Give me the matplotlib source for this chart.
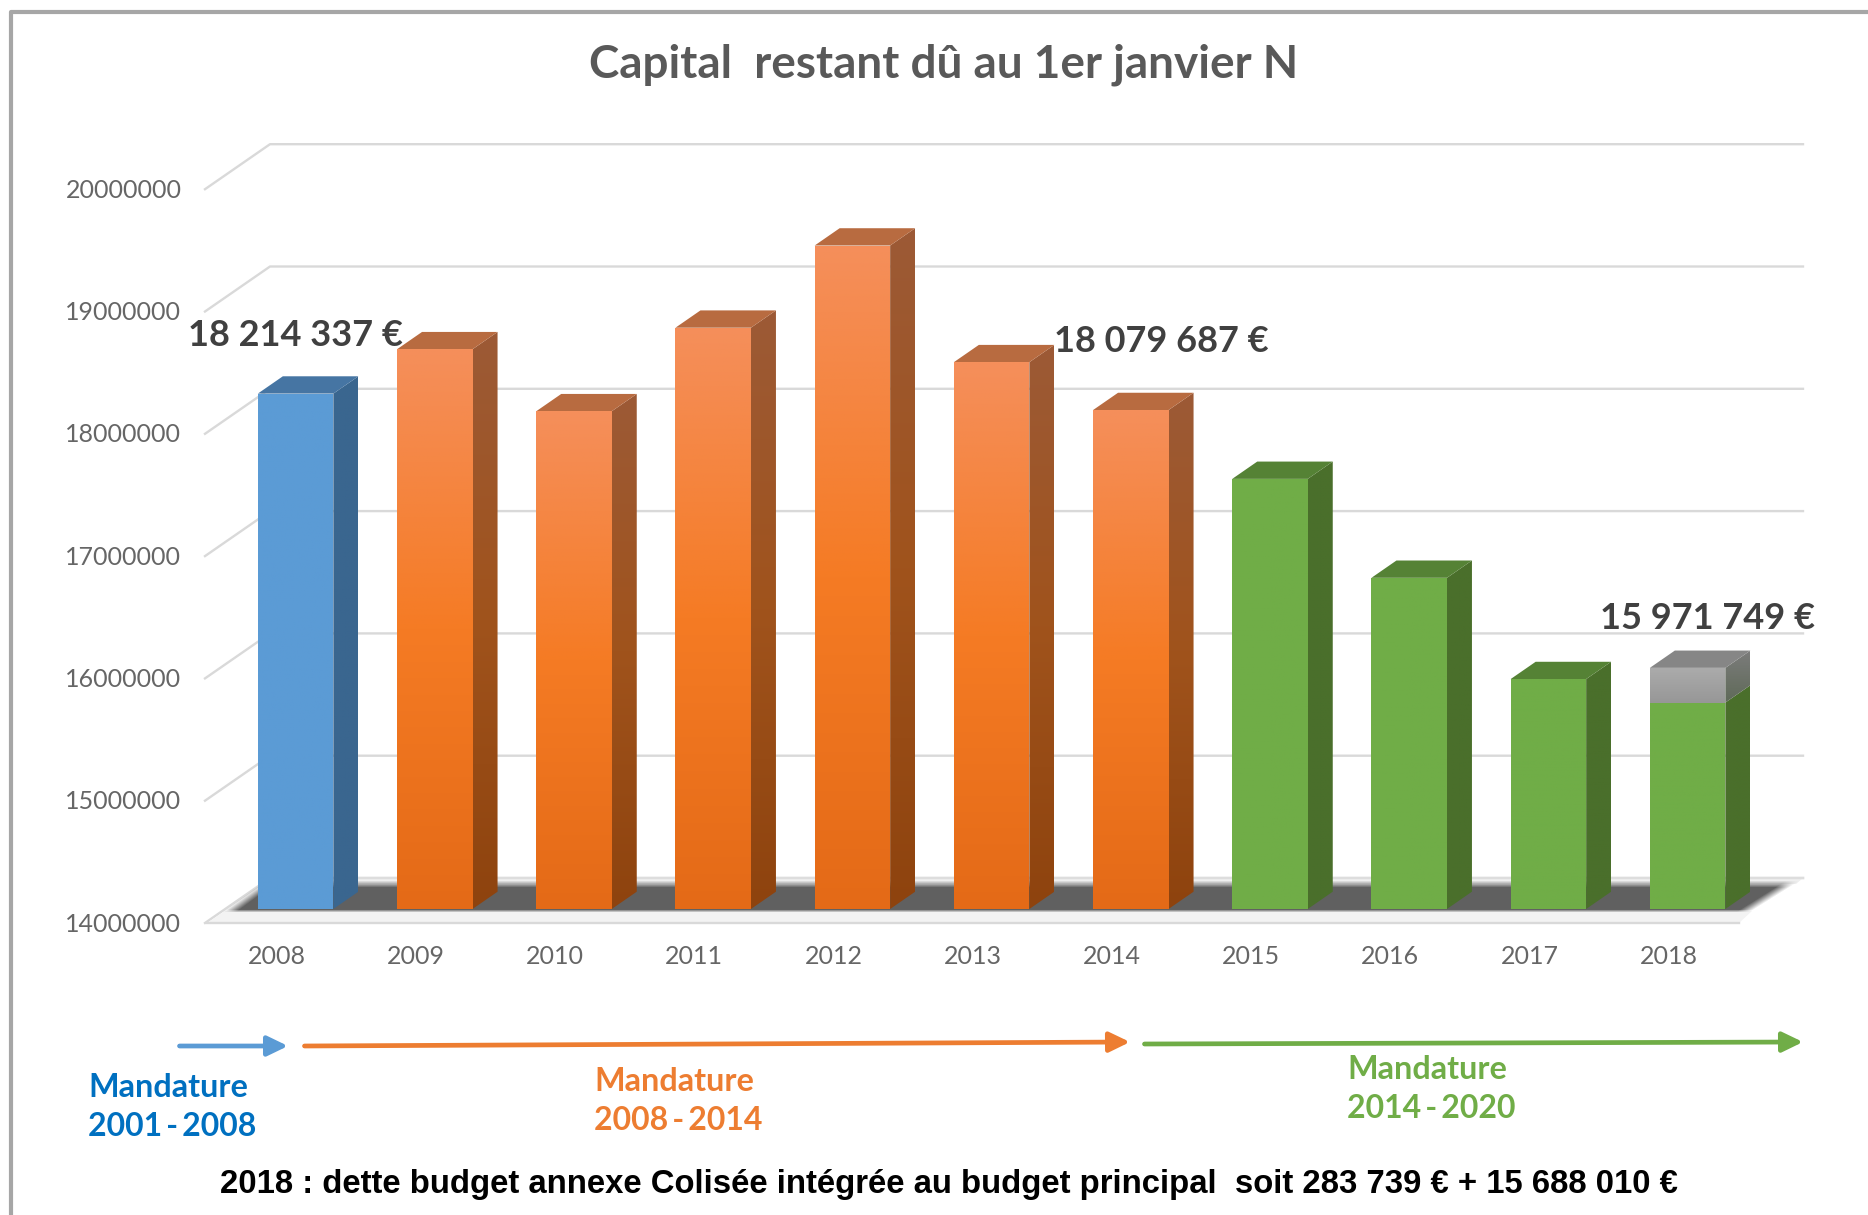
import matplotlib
matplotlib.use('Agg')
import matplotlib.pyplot as plt
import numpy as np
from matplotlib.colors import LinearSegmentedColormap
from matplotlib.lines import Line2D
from matplotlib.patches import Polygon
from matplotlib.transforms import ScaledTranslation

years = [2008, 2009, 2010, 2011, 2012, 2013, 2014, 2015, 2016, 2017, 2018]
capital = [18214337, 18577000, 18070000, 18753000, 19425000, 18471000, 18079687,
           17517000, 16708000, 15880000, 15688010]
colisee_2018 = 283739
mandate = ['blue', 'orange', 'orange', 'orange', 'orange', 'orange', 'orange',
           'green', 'green', 'green', 'green']
y_ticks = [14000000, 15000000, 16000000, 17000000, 18000000, 19000000, 20000000]

# front / side (top to bottom) / top colours
palette = {
    'blue': (['#5B9BD5', '#5B9BD5'], ['#3A668F', '#3A668F'], '#4675A3'),
    'orange': (['#F58F5B', '#F57B24', '#E46A17'], ['#9C5A36', '#A0531C', '#8E430E'], '#B86B40'),
    'green': (['#70AD47', '#70AD47'], ['#4A6F2B', '#4A6F2B'], '#558235'),
    'grey': (['#ABABAB', '#979797'], ['#7C7C7C', '#5F6A58'], '#868686'),
}

W, H = 1868, 1215
fig = plt.figure(figsize=(W / 100, H / 100), dpi=100, facecolor='white')

# plot box, in pixels of the picture
left, right, top, bottom = 205, 1810, 130, 930
ax = fig.add_axes([left / W, 1 - bottom / H, (right - left) / W, (bottom - top) / H])
x0, x_step = 295.6, 139.2   # centre of first bar, spacing
y0, y_step = 909, 122.3     # base of bars, pixels per million


def cat(px):
    return (px - x0) / x_step


def val(py):
    return 14e6 + (y0 - py) / y_step * 1e6


bar_w = 75.5 / x_step
depth_x = 25 / x_step
depth_y = 17.3 / y_step * 1e6
floor_dx = 65 / x_step
floor_dy = 45 / y_step * 1e6
front_shift = 14 / y_step * 1e6


def grad_poly(pts, colors, z):
    xs = [p[0] for p in pts]
    ys = [p[1] for p in pts]
    cmap = LinearSegmentedColormap.from_list('g', colors)
    im = ax.imshow(np.linspace(0, 1, 256)[:, None], cmap=cmap, aspect='auto', zorder=z,
                   extent=[min(xs), max(xs), min(ys), max(ys)], origin='upper')
    clip = Polygon(pts, transform=ax.transData, fc='none', ec='none', zorder=z)
    ax.add_patch(clip)
    im.set_clip_path(clip)


def draw_bar(i, low, high, kind, with_top=True):
    front, side, cap = palette[kind]
    a = i - bar_w / 2
    b = i + bar_w / 2
    grad_poly([(b, low), (b + depth_x, low + depth_y), (b + depth_x, high + depth_y), (b, high)], side, 5)
    grad_poly([(a, low), (b, low), (b, high), (a, high)], front, 6)
    if with_top:
        ax.add_patch(Polygon([(a, high), (b, high), (b + depth_x, high + depth_y), (a + depth_x, high + depth_y)],
                             fc=cap, ec='none', zorder=5))


# walls
for t in y_ticks:
    ax.plot([cat(205), cat(205) + floor_dx, cat(1803)],
            [t - front_shift, t - front_shift + floor_dy, t - front_shift + floor_dy],
            color='#D9D9D9', lw=1.7, zorder=1, clip_on=False)

# floor bands and the soft shadow
base = 14e6
ax.add_patch(Polygon([(cat(207), val(923)), (cat(225), val(911)), (cat(1752), val(911)), (cat(1739), val(923))],
                     fc='#F3F3F3', ec='none', zorder=2))
ax.add_patch(Polygon([(cat(258), val(878)), (cat(1803), val(878)), (cat(1796), val(884)), (cat(258), val(884))],
                     fc='#EFEFEF', ec='none', zorder=2))
ax.plot([cat(207), cat(1739)], [val(923), val(923)], color='#D9D9D9', lw=1.7, zorder=2)
ax.plot([cat(272), cat(1803)], [val(878), val(878)], color='#DDDDDD', lw=1.7, zorder=2)

px_grid, py_grid = np.meshgrid(np.arange(210, 1810), np.arange(876, 916))
t_s = (py_grid - 885.0) / 25.0
edge_l = 258 - t_s * 34
edge_r = 1792 - t_s * 40
alpha = (np.clip((px_grid - edge_l) / 14, 0, 1) * np.clip((edge_r - px_grid) / 14, 0, 1)
         * np.clip((py_grid - 880) / 7, 0, 1) * np.clip((912 - py_grid) / 3, 0, 1))
shadow_img = np.ones(alpha.shape + (4,))
shadow_img[..., :3] = 0x61 / 255
shadow_img[..., 3] = alpha
ax.imshow(shadow_img, aspect='auto', zorder=3, origin='upper',
          extent=[cat(210), cat(1810), val(916), val(876)])

# bars
for i, (v, kind) in enumerate(zip(capital, mandate)):
    draw_bar(i, base, v, kind, with_top=years[i] != 2018)
draw_bar(10, capital[10], capital[10] + colisee_2018, 'grey')

ax.set_xlim(cat(left), cat(right))
ax.set_ylim(val(bottom), val(top))
ax.patch.set_alpha(0)
for s in ax.spines.values():
    s.set_visible(False)

ax.set_xticks(range(len(years)))
ax.set_xticklabels(years, fontfamily='Lato', fontsize=18, color='#666666')
ax.set_yticks(y_ticks)
ax.set_yticklabels(y_ticks, fontfamily='Lato', fontsize=18, color='#666666')
ax.tick_params(axis='both', length=0)
ax.tick_params(axis='x', pad=11)
ax.tick_params(axis='y', pad=17)
for lab in ax.get_xticklabels():
    lab.set_transform(lab.get_transform() + ScaledTranslation(-19 / 100, 0, fig.dpi_scale_trans))
for lab in ax.get_yticklabels():
    lab.set_transform(lab.get_transform() + ScaledTranslation(0, -13 / 100, fig.dpi_scale_trans))


def label(px, py, s, **kw):
    fig.text(px / W, 1 - py / H, s, va='center', **kw)


label(944, 65, 'Capital  restant dû au 1er janvier N', ha='center', fontfamily='Lato', fontweight='bold',
      fontsize=33, color='#595959')

for px, py, s in [(188, 335, '18 214 337 €'), (1054, 342, '18 079 687 €'), (1600, 619, '15 971 749 €')]:
    label(px, py, s, ha='left', fontfamily='Lato', fontweight='bold', fontsize=26, color='#404040')

mandate_text = [(88, 1087.5, 1126, '2001\u2009-\u20092008', '#0070C0'),
                (594.5, 1081.5, 1120, '2008\u2009-\u20092014', '#ED7D31'),
                (1347, 1069.6, 1108, '2014\u2009-\u20092020', '#70AD47')]
for px, y1, y2, s, c in mandate_text:
    label(px, y1, 'Mandature', ha='left', fontfamily='Lato', fontweight='bold', fontsize=23.3, color=c)
    label(px, y2, s, ha='left', fontfamily='Lato', fontweight='bold', fontsize=23, color=c)

arrows = [(179.5, 1046, 288, 1046, '#5B9BD5'), (304.5, 1046, 1130, 1042, '#ED7D31'), (1144.5, 1044, 1803, 1042, '#70AD47')]
for xa, ya, xb, yb, c in arrows:
    ax.annotate('', xy=(xb / W, 1 - yb / H), xytext=(xa / W, 1 - ya / H),
                xycoords='figure fraction', textcoords='figure fraction', annotation_clip=False,
                arrowprops=dict(arrowstyle='-|>,head_length=0.62,head_width=0.3', color=c, lw=3.4,
                                shrinkA=0, shrinkB=0, mutation_scale=20))

label(220, 1185, '2018 : dette budget annexe Colisée intégrée au budget principal  soit 283 739 € + 15 688 010 €',
      ha='left', fontfamily='Liberation Sans', fontweight='bold', fontsize=23.68, color='black')

# outer frame, only top and left are visible
fig.add_artist(Line2D([10.5 / W, 10.5 / W, 1], [0, 1 - 12 / H, 1 - 12 / H], color='#A6A6A6', lw=3))

fig.savefig('out.png', dpi=100)
